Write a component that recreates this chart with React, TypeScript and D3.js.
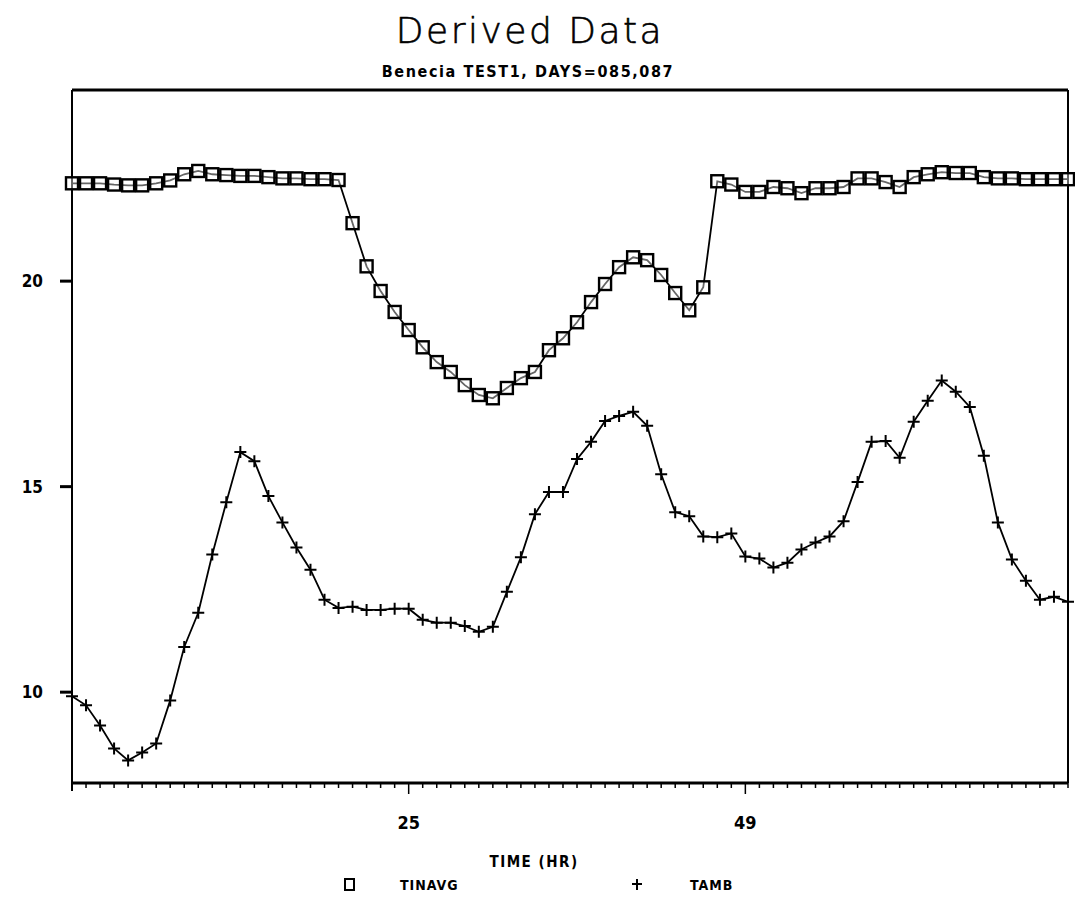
import * as d3 from "d3";

// hours on the x axis, one reading per hour
const hours = d3.range(1, 73);

const tinavg = [
  22.38, 22.38, 22.38, 22.35, 22.33, 22.33, 22.38, 22.45, 22.6, 22.68,
  22.6, 22.58, 22.56, 22.56, 22.53, 22.5, 22.5, 22.48, 22.48, 22.46,
  21.41, 20.36, 19.76, 19.25, 18.81, 18.39, 18.03, 17.79, 17.47, 17.23,
  17.15, 17.4, 17.64, 17.79, 18.32, 18.61, 19.0, 19.49, 19.93, 20.34,
  20.58, 20.51, 20.15, 19.71, 19.29, 19.85, 22.43, 22.35, 22.17, 22.17,
  22.29, 22.26, 22.14, 22.26, 22.26, 22.29, 22.5, 22.5, 22.41, 22.29,
  22.53, 22.6, 22.65, 22.63, 22.63, 22.53, 22.5, 22.5, 22.48, 22.48,
  22.48, 22.48,
];

const tamb = [
  9.9, 9.68, 9.19, 8.63, 8.34, 8.53, 8.75, 9.8, 11.1, 11.93,
  13.35, 14.62, 15.84, 15.62, 14.77, 14.13, 13.52, 12.98, 12.25, 12.05,
  12.08, 12.0, 12.0, 12.03, 12.03, 11.76, 11.69, 11.69, 11.61, 11.47,
  11.59, 12.44, 13.28, 14.33, 14.87, 14.87, 15.67, 16.09, 16.6, 16.72,
  16.82, 16.48, 15.3, 14.38, 14.28, 13.79, 13.77, 13.86, 13.3, 13.25,
  13.03, 13.15, 13.47, 13.64, 13.79, 14.16, 15.11, 16.09, 16.11, 15.7,
  16.58, 17.09, 17.58, 17.31, 16.94, 15.75, 14.13, 13.23, 12.71, 12.25,
  12.32, 12.2,
];

const xTickLabels = [25, 49];
const yTickLabels = [10, 15, 20];

export default function App() {
  const left = 72;
  const right = 1068;
  const top = 90;
  const bottom = 783;

  const x = d3.scaleLinear().domain([1, 72]).range([left, right]);
  const y = d3.scaleLinear().domain([7.79, 24.65]).range([bottom, top]);

  const line = d3
    .line<number>()
    .x((_, i) => x(hours[i]))
    .y((d) => y(d));

  const font = "'DejaVu Sans Condensed', 'DejaVu Sans', sans-serif";

  return (
    <svg
      width={1075}
      height={902}
      style={{ position: "absolute", left: 0, top: 0, background: "#fff" }}
    >
      {/* titles */}
      <text
        x={530}
        y={43}
        textAnchor="middle"
        fontFamily="'DejaVu Sans', sans-serif"
        fontSize={36}
        fontWeight={200}
        letterSpacing={2.5}
        stroke="#000"
        strokeWidth={0.6}
      >
        Derived Data
      </text>
      <text
        x={528}
        y={77}
        textAnchor="middle"
        fontFamily={font}
        fontSize={16}
        fontWeight="bold"
        letterSpacing={1.6}
      >
        Benecia TEST1, DAYS=085,087
      </text>

      {/* frame */}
      <line x1={left} y1={top} x2={right} y2={top} stroke="#000" strokeWidth={3} />
      <line x1={right} y1={top} x2={right} y2={bottom} stroke="#000" strokeWidth={2} />
      <line x1={left} y1={top} x2={left} y2={bottom + 8} stroke="#000" strokeWidth={2} />
      <line x1={left} y1={bottom} x2={right} y2={bottom} stroke="#000" strokeWidth={3} />

      {/* x ticks */}
      {hours.map((h) => (
        <line
          key={h}
          x1={x(h)}
          x2={x(h)}
          y1={bottom}
          y2={bottom + (xTickLabels.includes(h) ? 11 : 5)}
          stroke="#000"
          strokeWidth={1.5}
        />
      ))}
      {xTickLabels.map((t) => (
        <text
          key={t}
          x={x(t)}
          y={829}
          textAnchor="middle"
          fontFamily={font}
          fontSize={18}
          fontWeight="bold"
        >
          {t}
        </text>
      ))}

      {/* y ticks */}
      {yTickLabels.map((t) => (
        <g key={t}>
          <line x1={left - 12} x2={left} y1={y(t)} y2={y(t)} stroke="#000" strokeWidth={3} />
          <text
            x={43}
            y={y(t) + 6}
            textAnchor="end"
            fontFamily={font}
            fontSize={17}
            fontWeight="bold"
          >
            {t}
          </text>
        </g>
      ))}

      {/* series */}
      <path d={line(tinavg) ?? ""} fill="none" stroke="#000" strokeWidth={1.8} />
      <path d={line(tamb) ?? ""} fill="none" stroke="#000" strokeWidth={1.8} />

      {tinavg.map((v, i) => (
        <rect
          key={"s" + i}
          x={x(hours[i]) - 6}
          y={y(v) - 6}
          width={12}
          height={12}
          fill="#fff"
          fillOpacity={0.4}
          stroke="#000"
          strokeWidth={2.4}
        />
      ))}
      {tamb.map((v, i) => (
        <path
          key={"p" + i}
          d={`M${x(hours[i]) - 6},${y(v)}h12M${x(hours[i])},${y(v) - 6}v12`}
          stroke="#000"
          strokeWidth={2}
        />
      ))}

      {/* axis title and legend */}
      <text
        x={534}
        y={867}
        textAnchor="middle"
        fontFamily={font}
        fontSize={15}
        fontWeight="bold"
        letterSpacing={1.5}
      >
        TIME (HR)
      </text>
      <rect x={345} y={879} width={9} height={11} fill="none" stroke="#000" strokeWidth={2} />
      <text
        x={400}
        y={890}
        fontFamily={font}
        fontSize={14}
        fontWeight="bold"
        letterSpacing={1}
      >
        TINAVG
      </text>
      <path d="M632,884h10M637,879v11" stroke="#000" strokeWidth={2} />
      <text
        x={690}
        y={890}
        fontFamily={font}
        fontSize={14}
        fontWeight="bold"
        letterSpacing={1}
      >
        TAMB
      </text>
    </svg>
  );
}
